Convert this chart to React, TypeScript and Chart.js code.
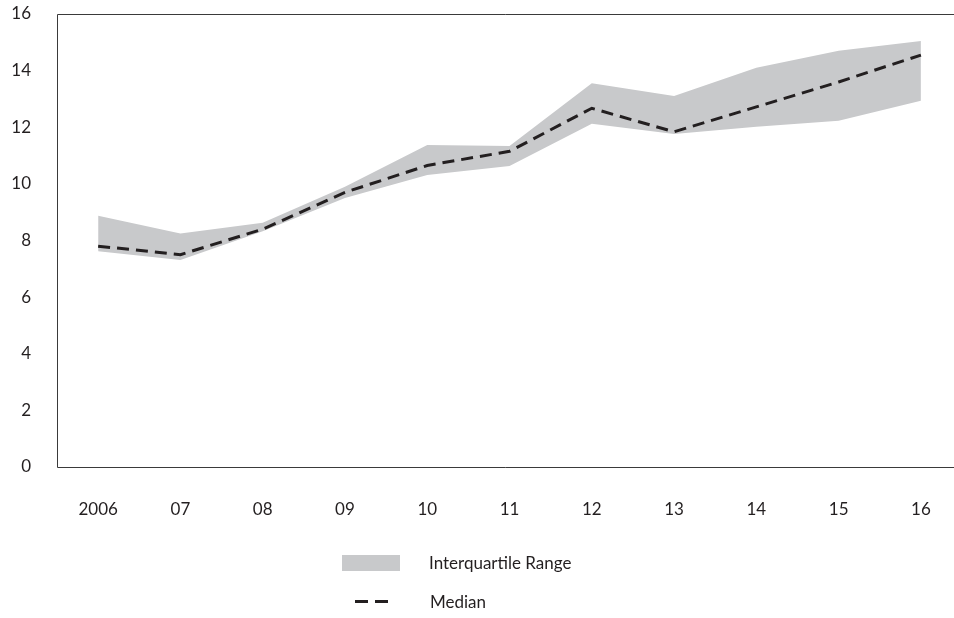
import React, { useEffect, useRef } from "react";
import { Chart, registerables } from "chart.js";

Chart.register(...registerables);

const categories = ["2006", "07", "08", "09", "10", "11", "12", "13", "14", "15", "16"];
const median = [7.8, 7.5, 8.4, 9.7, 10.65, 11.15, 12.67, 11.84, 12.72, 13.6, 14.55];
const lowerQuartile = [7.62, 7.31, 8.33, 9.5, 10.31, 10.63, 12.12, 11.76, 12.02, 12.23, 12.94];
const upperQuartile = [8.87, 8.25, 8.63, 9.9, 11.37, 11.34, 13.55, 13.1, 14.1, 14.7, 15.05];
const legendLabels = ["Interquartile Range", "Median"];

const FONT = "Lato, 'Open Sans', sans-serif";
const TEXT = "#231f20";
const BAND = "#c8c9cb";

const toPoints = (arr: number[]) => arr.map((y, i) => ({ x: i, y }));

const framePlugin = {
  id: "frame",
  afterDatasetsDraw(chart: any) {
    const { ctx, chartArea } = chart;
    ctx.save();
    ctx.strokeStyle = "#3a3a3a";
    ctx.lineWidth = 1;
    ctx.beginPath();
    const l = Math.round(chartArea.left) + 0.5;
    const t = Math.round(chartArea.top) + 0.5;
    const b = Math.round(chartArea.bottom) + 0.5;
    ctx.moveTo(chart.width, t);
    ctx.lineTo(l, t);
    ctx.lineTo(l, b);
    ctx.lineTo(chart.width, b);
    ctx.stroke();
    ctx.restore();
  },
};

const legendPlugin = {
  id: "customLegend",
  afterDraw(chart: any) {
    const { ctx } = chart;
    const cx = chart.width / 2;
    ctx.save();
    ctx.fillStyle = BAND;
    ctx.fillRect(cx - 135, 555, 58, 16);
    ctx.strokeStyle = TEXT;
    ctx.lineWidth = 3;
    ctx.setLineDash([13, 7]);
    ctx.beginPath();
    ctx.moveTo(cx - 122, 601.5);
    ctx.lineTo(cx - 89, 601.5);
    ctx.stroke();
    ctx.setLineDash([]);
    ctx.fillStyle = TEXT;
    ctx.font = `17px ${FONT}`;
    ctx.textAlign = "left";
    ctx.textBaseline = "middle";
    ctx.fillText(legendLabels[0], cx - 48, 564);
    ctx.fillText(legendLabels[1], cx - 47, 603);
    ctx.restore();
  },
};

const zeroPad = (axis: any) => {
  axis.paddingTop = 0;
  axis.paddingBottom = 0;
  axis.paddingLeft = 0;
  axis.paddingRight = 0;
};

export default function App() {
  const ref = useRef<HTMLCanvasElement>(null);
  useEffect(() => {
    document.body.style.margin = "0";
    if (!ref.current) return;
    const chart = new Chart(ref.current, {
      type: "line",
      data: {
        datasets: [
          {
            label: "Lower quartile",
            data: toPoints(lowerQuartile),
            borderWidth: 0,
            pointRadius: 0,
            borderColor: BAND,
            backgroundColor: BAND,
            fill: false,
            order: 3,
          },
          {
            label: legendLabels[0],
            data: toPoints(upperQuartile),
            borderWidth: 0,
            pointRadius: 0,
            borderColor: BAND,
            backgroundColor: BAND,
            fill: "-1",
            order: 2,
          },
          {
            label: legendLabels[1],
            data: toPoints(median),
            borderColor: TEXT,
            borderWidth: 3,
            borderDash: [12, 7],
            pointRadius: 0,
            fill: false,
            tension: 0,
            order: 1,
          },
        ],
      },
      options: {
        responsive: false,
        animation: false,
        layout: { padding: { top: 14, right: 1, bottom: 0, left: 0 } },
        plugins: {
          legend: { display: false },
          tooltip: { enabled: false },
        },
        scales: {
          x: {
            type: "linear",
            min: -0.5,
            max: 10.39,
            grid: { display: false, drawTicks: false },
            border: { display: false },
            afterBuildTicks: (axis: any) => {
              axis.ticks = categories.map((_, i) => ({ value: i }));
            },
            afterFit: (axis: any) => {
              axis.height = 151;
              zeroPad(axis);
            },
            ticks: {
              autoSkip: false,
              maxRotation: 0,
              padding: 32,
              color: TEXT,
              font: { family: FONT, size: 17 },
              callback: (v: any) => categories[Math.round(Number(v))] ?? "",
            },
          },
          y: {
            min: 0,
            max: 16,
            grid: { display: false, drawTicks: false },
            border: { display: false },
            afterFit: (axis: any) => {
              axis.width = 57;
              zeroPad(axis);
            },
            ticks: {
              stepSize: 2,
              padding: 26,
              color: TEXT,
              font: { family: FONT, size: 17 },
            },
          },
        },
      },
      plugins: [framePlugin, legendPlugin],
    });
    return () => chart.destroy();
  }, []);
  return (
    <div style={{ width: 954, height: 618, background: "#fff" }}>
      <canvas ref={ref} width={954} height={618} />
    </div>
  );
}
